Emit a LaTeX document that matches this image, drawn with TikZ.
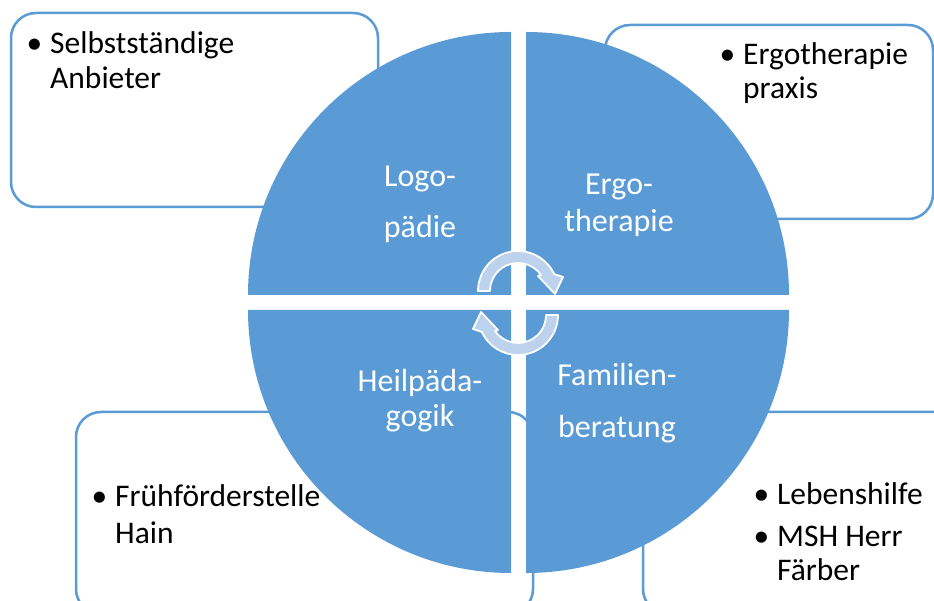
\documentclass[tikz,border=0pt]{standalone}
\usepackage{fontspec}
\setmainfont{Carlito}
\definecolor{qblue}{RGB}{91,155,213}
\definecolor{arrowblue}{RGB}{189,210,236}
\tikzset{
  infobox/.style={draw=qblue, line width=2.5pt, fill=white, rounded corners=25pt},
  quad/.style={fill=qblue},
  cyclearrow/.style={fill=arrowblue, draw=white, line width=1.8pt, line join=round},
  boxtext/.style={anchor=base west, inner sep=0pt, text=black, font=\fontsize{31.5}{35}\selectfont},
  quadtext/.style={anchor=base, inner sep=0pt, text=white, font=\fontsize{32}{35}\selectfont},
}
\newcommand{\bul}{\makebox[23.5pt][l]{\textbullet}}
\begin{document}
\begin{tikzpicture}[x=1pt,y=1pt]
\useasboundingbox (0,0) rectangle (934,600);
\clip (0,0) rectangle (934,600);
\fill[white] (0,0) rectangle (934,600);
% boxes
\draw[infobox] (11,393) rectangle (378,587);
\draw[infobox] (605,381) rectangle (933,575);
\draw[infobox] (76,-14) rectangle (533,188);
\draw[infobox] (643,-14) rectangle (980,188);
% quadrants
\fill[quad] (511,305) -- (511,568) arc[start angle=90,end angle=180,radius=263] -- cycle;
\fill[quad] (526,305) -- (789,305) arc[start angle=0,end angle=90,radius=263] -- cycle;
\fill[quad] (511,290) -- (248,290) arc[start angle=180,end angle=270,radius=263] -- cycle;
\fill[quad] (526,290) -- (526,27) arc[start angle=270,end angle=360,radius=263] -- cycle;
% cycle arrows
\begin{scope}[shift={(518,309)}]
\draw[cyclearrow] (-40,0) arc[start angle=180,end angle=25,radius=40] -- (45,14) -- (37,-3) -- (20,15) -- ({28*cos(35)},{28*sin(35)}) arc[start angle=35,end angle=180,radius=28] -- cycle;
\end{scope}
\begin{scope}[shift={(518,285)},rotate=180]
\draw[cyclearrow] (-40,0) arc[start angle=180,end angle=25,radius=40] -- (45,14) -- (37,-3) -- (20,15) -- ({28*cos(35)},{28*sin(35)}) arc[start angle=35,end angle=180,radius=28] -- cycle;
\end{scope}
% quadrant labels
\node[quadtext] (logo) at (420,413) {\begin{tabular}[t]{@{}c@{}}Logo-\\[16pt]pädie\end{tabular}};
\node[quadtext] (ergo) at (619,405) {\begin{tabular}[t]{@{}c@{}}Ergo-\\[2pt]therapie\end{tabular}};
\node[quadtext] (heil) at (420,208) {\begin{tabular}[t]{@{}c@{}}Heilpäda-\\gogik\end{tabular}};
\node[quadtext] (fam) at (617,214) {\begin{tabular}[t]{@{}c@{}}Familien-\\[17pt]beratung\end{tabular}};
% box texts
\node[boxtext] (t1) at (26.5,546) {\begin{tabular}[t]{@{}l@{}l@{}}\bul & Selbstständige\\ & Anbieter\end{tabular}};
\node[boxtext] (t2) at (719.5,535) {\begin{tabular}[t]{@{}l@{}l@{}}\bul & Ergotherapie\\[-1pt] & praxis\end{tabular}};
\node[boxtext] (t3) at (91.5,94) {\begin{tabular}[t]{@{}l@{}l@{}}\bul & Frühförderstelle\\[2pt] & Hain\end{tabular}};
\node[boxtext] (t4) at (753.5,96) {\begin{tabular}[t]{@{}l@{}l@{}}\bul & Lebenshilfe\\[7pt]\bul & MSH Herr\\[-1pt] & Färber\end{tabular}};
\end{tikzpicture}
\end{document}
